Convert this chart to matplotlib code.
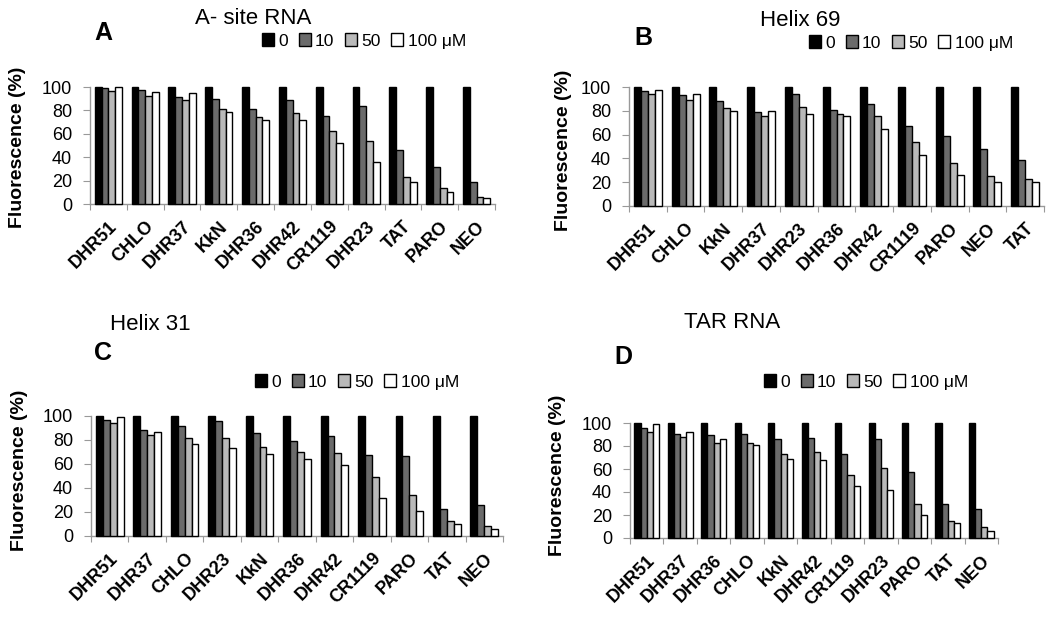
import matplotlib
matplotlib.use("Agg")
import matplotlib.pyplot as plt
from matplotlib.patches import Patch
import numpy as np

plt.rcParams['font.family'] = ['Liberation Sans', 'DejaVu Sans']

concentrations = ["0", "10", "50", "100 \u03bcM"]

# Panel A: A- site RNA
cats_a = ["DHR51", "CHLO", "DHR37", "KkN", "DHR36", "DHR42", "CR1119", "DHR23", "TAT", "PARO", "NEO"]
a_0 = [100, 100, 100, 100, 100, 100, 100, 100, 100, 100, 100]
a_10 = [99, 97.5, 91.5, 90, 81, 88.5, 75.5, 84, 46, 32, 19]
a_50 = [97, 92.5, 88.5, 81, 74, 78, 62, 54, 23, 14, 6]
a_100 = [100, 95.5, 95, 79, 72, 72, 52.5, 36, 18.5, 10.5, 5]

# Panel B: Helix 69
cats_b = ["DHR51", "CHLO", "KkN", "DHR37", "DHR23", "DHR36", "DHR42", "CR1119", "PARO", "NEO", "TAT"]
b_0 = [100, 100, 100, 100, 100, 100, 100, 100, 100, 100, 100]
b_10 = [97, 93.5, 88, 79, 94, 81, 86, 67, 59, 48, 38.5]
b_50 = [94, 89, 82, 75.5, 83, 77, 76, 54, 36, 25, 23]
b_100 = [97.5, 94, 79.5, 80, 77.5, 76, 65, 43, 26, 20, 20]

# Panel C: Helix 31
cats_c = ["DHR51", "DHR37", "CHLO", "DHR23", "KkN", "DHR36", "DHR42", "CR1119", "PARO", "TAT", "NEO"]
c_0 = [100, 100, 100, 100, 100, 100, 100, 100, 100, 100, 100]
c_10 = [96.5, 88, 92, 96, 86, 79, 83.5, 67.5, 67, 22.5, 25.5]
c_50 = [94.5, 84, 82, 81.5, 74, 70, 69.5, 49.5, 34.5, 12.8, 8.6]
c_100 = [99.5, 86.5, 77, 73.5, 68.5, 64, 59, 31.5, 21, 10.3, 5.8]

# Panel D: TAR RNA
cats_d = ["DHR51", "DHR37", "DHR36", "CHLO", "KkN", "DHR42", "CR1119", "DHR23", "PARO", "TAT", "NEO"]
d_0 = [100, 100, 100, 100, 100, 100, 100, 100, 100, 100, 100]
d_10 = [96, 90.5, 90, 90.5, 86, 87, 73, 86, 57.5, 29.5, 25.5]
d_50 = [92.5, 88, 83, 82.5, 73, 74.5, 54.5, 60.5, 30, 14.7, 9.8]
d_100 = [99, 92, 86.5, 81, 68.5, 67.5, 45, 41.5, 20, 13.3, 6.3]

colors = ["#000000", "#6b6b6b", "#b9b9b9", "#ffffff"]

W, H = 1050, 618
fig = plt.figure(figsize=(W / 100, H / 100), dpi=100)


def px_rect(x0, x1, ytop, ybot):
    return [x0 / W, 1 - ybot / H, (x1 - x0) / W, (ybot - ytop) / H]


def draw_panel(rect, cats, series, letter, letter_xy, title, title_xy,
               legend_xy, ylabel_xy):
    ax = fig.add_axes(rect)
    n = len(cats)
    x = np.arange(n)
    bw = 0.185
    offs = (np.arange(4) - 1.5) * bw
    for vals, c, o in zip(series, colors, offs):
        ax.bar(x + o, vals, width=bw, color=c, edgecolor="black",
               linewidth=1.0, clip_on=False, zorder=3)
    ax.set_xlim(-0.5, n - 0.5)
    ax.set_ylim(0, 100)
    ax.set_yticks(np.arange(0, 101, 20))
    ax.set_xticks(np.arange(n + 1) - 0.5, minor=False)
    ax.set_xticklabels([])
    ax.set_xticks(x, minor=True)
    ax.set_xticklabels(cats, minor=True, rotation=45, ha="right",
                       rotation_mode="anchor", fontsize=13, fontweight="bold")
    ax.tick_params(axis="x", which="minor", length=0, pad=10)
    ax.tick_params(axis="x", which="major", length=4, color="#999999",
                   direction="out")
    ax.tick_params(axis="y", length=5, color="#999999", labelsize=13, pad=8)
    for s in ["top", "right"]:
        ax.spines[s].set_visible(False)
    for s in ["left", "bottom"]:
        ax.spines[s].set_color("#999999")
        ax.spines[s].set_linewidth(1.0)
    fig.text(letter_xy[0] / W, 1 - letter_xy[1] / H, letter, fontsize=18,
             fontweight="bold", ha="center", va="center")
    fig.text(title_xy[0] / W, 1 - title_xy[1] / H, title, fontsize=16,
             ha="center", va="center")
    fig.text(ylabel_xy[0] / W, 1 - ylabel_xy[1] / H, "Fluorescence (%)",
             fontsize=14, fontweight="bold", rotation=90,
             ha="center", va="center")
    handles = [Patch(facecolor=c, edgecolor="black", linewidth=1.0) for c in colors]
    fig.legend(handles, concentrations, loc="center",
               bbox_to_anchor=(legend_xy[0] / W, 1 - legend_xy[1] / H),
               ncol=4, frameon=False, fontsize=12.5, handlelength=0.7,
               handleheight=0.7, handletextpad=0.25, columnspacing=0.6,
               borderpad=0, borderaxespad=0)
    return ax


draw_panel(px_rect(90, 495, 87, 204), cats_a, [a_0, a_10, a_50, a_100],
           "A", (103, 33), "A- site RNA", (253, 19), (364, 41), (18, 147))
draw_panel(px_rect(629, 1044, 87, 206), cats_b, [b_0, b_10, b_50, b_100],
           "B", (643, 38), "Helix 69", (800, 21), (911, 43), (563, 150))
draw_panel(px_rect(91, 503, 416, 536), cats_c, [c_0, c_10, c_50, c_100],
           "C", (103, 353), "Helix 31", (150, 325), (357, 382), (20, 470))
draw_panel(px_rect(630, 998, 423, 538), cats_d, [d_0, d_10, d_50, d_100],
           "D", (623, 357), "TAR RNA", (732, 323), (866, 382), (557, 475))

fig.savefig("out.png", dpi=100)
